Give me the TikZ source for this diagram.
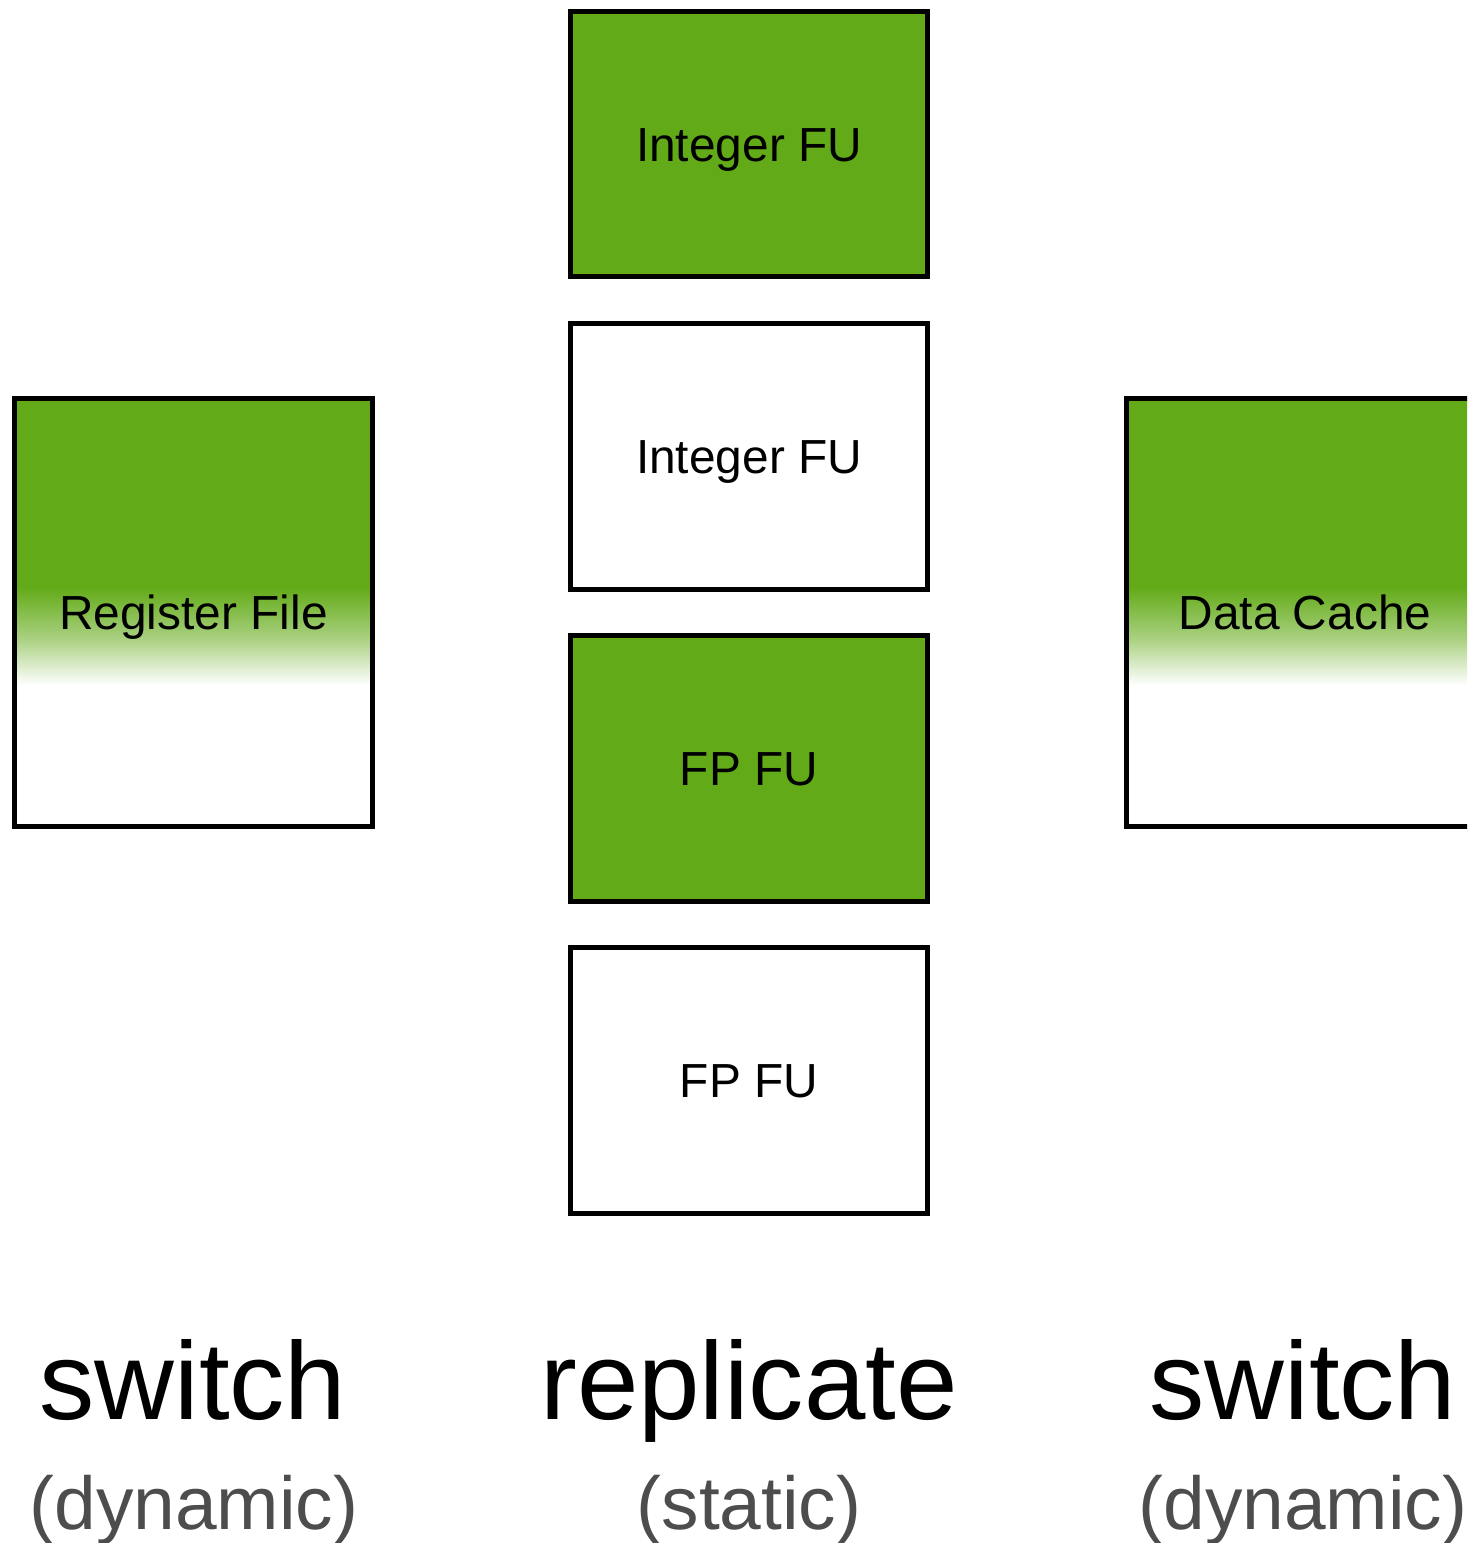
\documentclass[tikz,border=0pt]{standalone}
\usepackage{fontspec}
\setmainfont{Liberation Sans}
\definecolor{fugreen}{HTML}{62AA17}
\definecolor{notegray}{HTML}{4D4D4D}
% solid green in the upper half, fading to white below the label
\pgfdeclareverticalshading{fadebox}{100bp}{color(0bp)=(white); color(41.5bp)=(white); color(47bp)=(fugreen!55!white); color(53bp)=(fugreen); color(100bp)=(fugreen)}
\begin{document}
\begin{tikzpicture}[x=0.01cm,y=-0.01cm,
  unit/.style={draw=black, line width=0.05cm, inner sep=0pt,
    minimum width=3.57cm, minimum height=2.65cm,
    font=\fontsize{13.6}{16}\selectfont, text height=9.7pt, text depth=0pt},
  store/.style={unit, minimum width=3.57cm, minimum height=4.28cm,
    shading=fadebox},
  active/.style={fill=fugreen},
  idle/.style={fill=white},
  policy/.style={anchor=base, inner sep=0pt, font=\fontsize{31.4}{36}\selectfont},
  kind/.style={anchor=base, inner sep=0pt, text=notegray, font=\fontsize{21.3}{25}\selectfont}]
  \useasboundingbox (0,0) rectangle (1467,1543);
  \clip (0,0) rectangle (1467,1543);

  % replicated functional units
  \node[unit, active] (int1) at (749,144) {Integer FU};
  \node[unit, idle]   (int2) at (749,456.5) {Integer FU};
  \node[unit, active] (fp1)  at (749,768.5) {FP FU};
  \node[unit, idle]   (fp2)  at (749,1080.5) {FP FU};

  % switched structures
  \node[store] (rf) at (193.5,612.5) {Register File};
  \node[store] (dc) at (1305,612.5) {Data Cache};

  % captions
  \node[policy] (swl) at (193,1419) {switch};
  \node[kind]   (dyl) at (194,1529) {(dynamic)};
  \node[policy] (rep) at (749,1419) {replicate};
  \node[kind]   (sta) at (749,1529) {(static)};
  \node[policy] (swr) at (1303,1419) {switch};
  \node[kind]   (dyr) at (1303,1529) {(dynamic)};
\end{tikzpicture}
\end{document}
